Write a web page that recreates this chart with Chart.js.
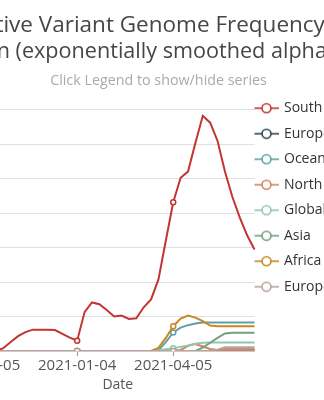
<!DOCTYPE html>
<html>
<head>
<meta charset="utf-8">
<script src="https://cdn.jsdelivr.net/npm/chart.js@4"></script>
<style>
  html, body { margin: 0; padding: 0; background: #fff; overflow: hidden; }
  body { width: 324px; height: 400px; position: relative; }
  #chartBox { position: absolute; left: -59px; top: 0; width: 435px; height: 400px; }
</style>
</head>
<body>
<div id="chartBox"><canvas id="freqChart"></canvas></div>
<script>
// weekly sample dates
var dates = [
    '2020-10-05', '2020-10-12', '2020-10-19', '2020-10-26', '2020-11-02', '2020-11-09', '2020-11-16',
    '2020-11-23', '2020-11-30', '2020-12-07', '2020-12-14', '2020-12-21', '2020-12-28', '2021-01-04',
    '2021-01-11', '2021-01-18', '2021-01-25', '2021-02-01', '2021-02-08', '2021-02-15', '2021-02-22',
    '2021-03-01', '2021-03-08', '2021-03-15', '2021-03-22', '2021-03-29', '2021-04-05', '2021-04-12',
    '2021-04-19', '2021-04-26', '2021-05-03', '2021-05-10', '2021-05-17', '2021-05-24', '2021-05-31',
    '2021-06-07', '2021-06-14', '2021-06-21'
]

// relative frequency (%) per region
var southAmerica = [0, 0, 0, 0.8, 2.6, 4.3, 5.5, 6.2, 6.2, 6.2, 6.1, 5.0, 3.9, 3.0, 11.3, 14.1, 13.6, 11.9, 10.0,
    10.3, 9.3, 9.5, 12.7, 15.0, 20.8, 32.1, 43.2, 50.3, 52.1, 60.4, 68.3, 66.3, 61.0, 52.1, 44.8, 38.8, 33.6, 29.5]
var europe = [0, 0, 0, 0, 0, 0, 0, 0, 0, 0, 0, 0, 0, 0, 0, 0, 0, 0, 0,
    0, 0, 0, 0, 0, 0, 0, 0, 0, 0, 0, 0, 0, 0, 0.4, 0.4, 0.4, 0.4, 0.4]
var oceania = [0, 0, 0, 0, 0, 0, 0, 0, 0, 0, 0, 0, 0, 0, 0, 0, 0, 0, 0,
    0, 0, 0, 0, 0, 0.2, 2.6, 5.4, 6.8, 7.5, 8.0, 8.3, 8.3, 8.3, 8.3, 8.3, 8.3, 8.3, 8.3]
var northAmerica = [0, 0, 0, 0, 0, 0, 0, 0, 0, 0, 0, 0, 0, 0, 0, 0, 0, 0, 0,
    0, 0, 0, 0, 0, 0, 0, 0, 0.3, 1.5, 2.0, 1.3, 0.6, 0.3, 0.3, 0.3, 0.3, 0.3, 0.3]
var globalAll = [0, 0, 0, 0, 0, 0, 0, 0, 0, 0, 0, 0, 0, 0, 0, 0, 0, 0, 0,
    0, 0, 0, 0, 0, 0.2, 0.5, 0.8, 1.2, 1.6, 2.1, 2.4, 2.5, 2.5, 2.5, 2.5, 2.5, 2.5, 2.5]
var asia = [0, 0, 0, 0, 0, 0, 0, 0, 0, 0, 0, 0, 0, 0, 0, 0, 0, 0, 0,
    0, 0, 0, 0, 0, 0, 0, 0, 0, 0, 0, 1.0, 2.4, 3.8, 5.1, 5.3, 5.3, 5.3, 5.3]
var africa = [0, 0, 0, 0, 0, 0, 0, 0, 0, 0, 0, 0, 0, 0, 0, 0, 0, 0, 0,
    0, 0, 0, 0, 0, 0.9, 3.8, 7.2, 9.4, 10.3, 9.7, 8.7, 7.4, 7.2, 7.2, 7.2, 7.2, 7.2, 7.2]
var europeExUK = [0, 0, 0, 0, 0, 0, 0, 0, 0, 0, 0, 0, 0, 0, 0, 0, 0, 0, 0,
    0, 0, 0, 0, 0, 0, 0, 0, 0, 0, 0, 0, 0, 0.4, 1.1, 1.1, 1.1, 1.1, 1.1]

var seriesNames = ['South America', 'Europe', 'Oceania', 'North America', 'Global', 'Asia', 'Africa', 'Europe (excl. UK)']
var seriesData = [southAmerica, europe, oceania, northAmerica, globalAll, asia, africa, europeExUK]
var colors = ['#c23531', '#2f4554', '#61a0a8', '#d48265', '#91c7ae', '#749f83', '#ca8622', '#bda29a']

var labelEvery = 13

// line-circle-line legend symbol
function legendIcon(color) {
    var c = document.createElement('canvas')
    c.width = 35
    c.height = 12
    var g = c.getContext('2d')
    g.strokeStyle = color
    g.lineWidth = 1.6
    g.beginPath()
    g.moveTo(0, 6)
    g.lineTo(25, 6)
    g.stroke()
    g.beginPath()
    g.arc(12.5, 6, 4.5, 0, Math.PI * 2)
    g.fillStyle = '#fff'
    g.fill()
    g.stroke()
    return c
}
var icons = colors.map(legendIcon)

var datasets = seriesNames.map(function (name, i) {
    return {
        label: name,
        data: seriesData[i],
        borderColor: colors[i],
        backgroundColor: colors[i],
        borderWidth: 2,
        tension: 0,
        fill: false,
        // later series sit on top
        order: seriesNames.length - i,
        pointRadius: function (ctx) { return ctx.dataIndex % labelEvery === 0 ? 2.5 : 0 },
        pointHoverRadius: 4,
        pointBorderWidth: 1.5,
        pointBackgroundColor: '#fff',
        pointBorderColor: colors[i]
    }
})

Chart.defaults.font.family = "'Open Sans', sans-serif"

new Chart(document.getElementById('freqChart'), {
    type: 'line',
    data: { labels: dates, datasets: datasets },
    options: {
        responsive: true,
        maintainAspectRatio: false,
        animation: false,
        layout: { padding: { left: 0, right: 0, top: 0, bottom: 5 } },
        plugins: {
            title: {
                display: true,
                text: ['Relative Variant Genome Frequency per', 'Region (exponentially smoothed alpha=0.5)'],
                color: '#464646',
                font: { size: 22.5, weight: 'normal', lineHeight: '26px' },
                padding: { top: 12.4, bottom: 0 }
            },
            subtitle: {
                display: true,
                text: 'Click Legend to show/hide series',
                color: '#aaa',
                font: { size: 14.3, lineHeight: 1.2 },
                padding: { top: 8, bottom: 20.4 }
            },
            legend: {
                position: 'right',
                align: 'center',
                maxWidth: 121.5,
                labels: {
                    usePointStyle: true,
                    pointStyleWidth: 11,
                    padding: 11.5,
                    color: '#333',
                    font: { size: 14 },
                    generateLabels: function (chart) {
                        return chart.data.datasets.map(function (ds, i) {
                            return {
                                text: ds.label,
                                pointStyle: icons[i],
                                fillStyle: ds.borderColor,
                                strokeStyle: ds.borderColor,
                                lineWidth: 0,
                                fontColor: '#333',
                                hidden: !chart.isDatasetVisible(i),
                                datasetIndex: i
                            }
                        })
                    }
                }
            },
            tooltip: { mode: 'index', intersect: false }
        },
        scales: {
            x: {
                title: {
                    display: true,
                    text: 'Date',
                    color: '#555',
                    font: { size: 14, lineHeight: 1.2 },
                    padding: { top: 0.6, bottom: 1.6 }
                },
                grid: { drawOnChartArea: false, drawTicks: true, tickLength: 5, color: '#999' },
                border: { color: '#ccc' },
                ticks: {
                    autoSkip: false,
                    maxRotation: 0,
                    minRotation: 0,
                    padding: 1,
                    color: '#555',
                    font: { size: 15, lineHeight: 1.2 },
                    callback: function (value, index) {
                        return index % labelEvery === 0 ? this.getLabelForValue(value) : null
                    }
                }
            },
            y: {
                min: 0,
                max: 70,
                ticks: { stepSize: 10, color: '#555', font: { size: 14 } },
                grid: { color: '#e0e0e0' },
                border: { display: false },
                afterFit: function (scale) { scale.width = 40 }
            }
        }
    }
})
</script>
</body>
</html>
